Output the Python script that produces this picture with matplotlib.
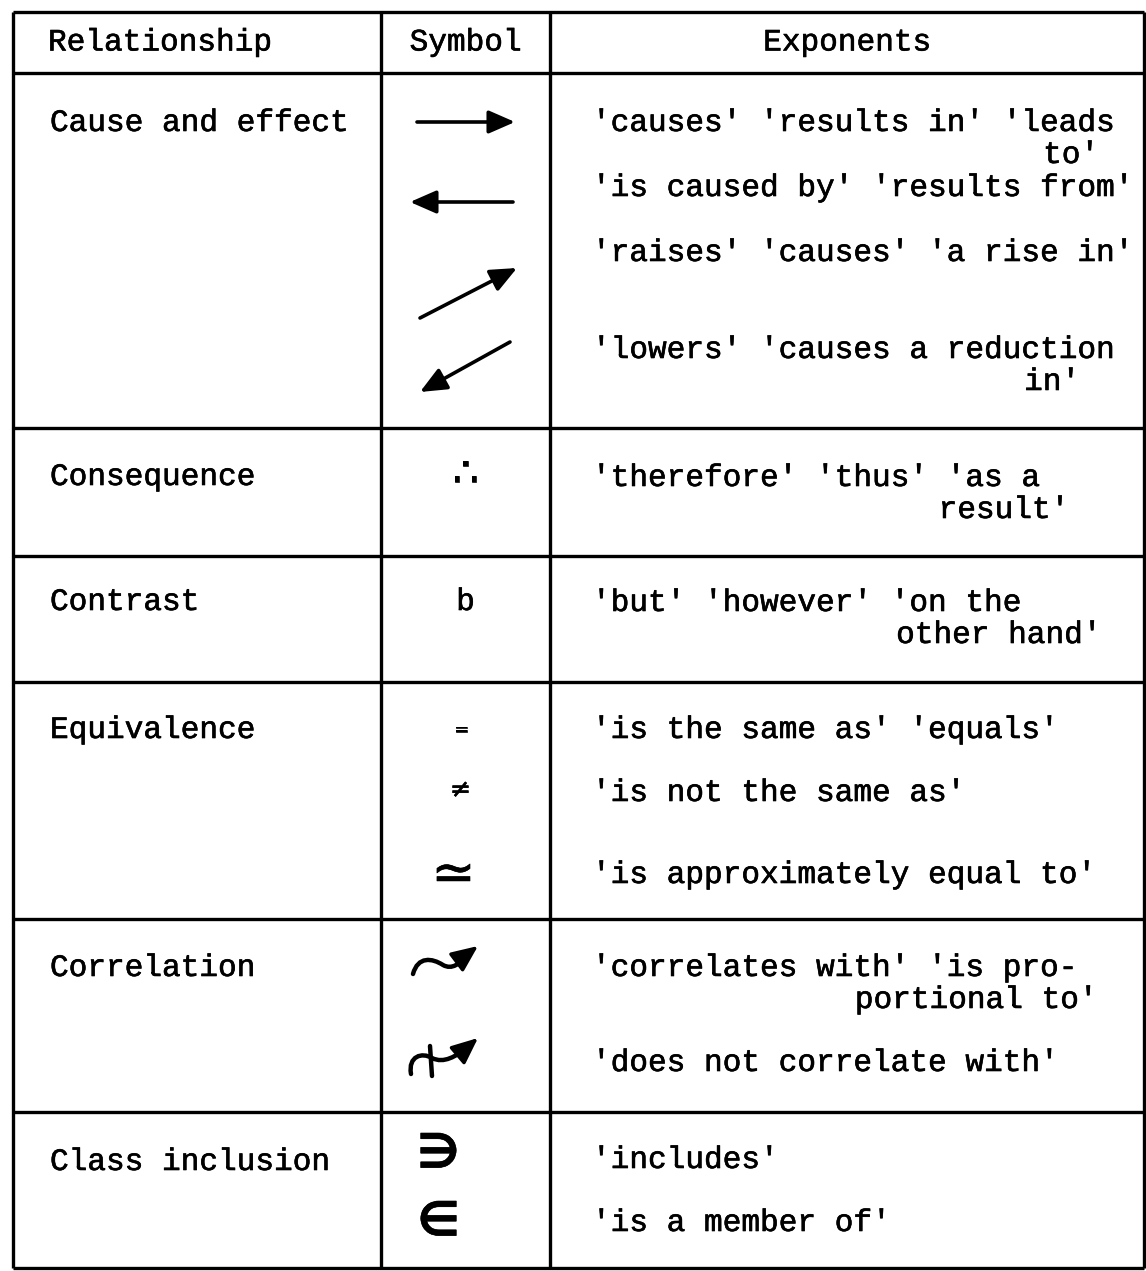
import matplotlib
matplotlib.use("Agg")
import matplotlib.pyplot as plt
import matplotlib.patheffects as pe
from matplotlib.path import Path
from matplotlib.patches import PathPatch

# table content
headers = ["Relationship", "Symbol", "Exponents"]
relationships = ["Cause and effect", "Consequence", "Contrast",
                 "Equivalence", "Correlation", "Class inclusion"]
symbols = [["arrow_right", "arrow_left", "arrow_up", "arrow_down"],
           ["\u2234"],
           ["b"],
           ["=", "\u2260", "\u2243"],
           ["corr", "no_corr"],
           ["\u220b", "\u2208"]]
exponents = [
    ["'causes' 'results in' 'leads", "'is caused by' 'results from'",
     "'raises' 'causes' 'a rise in'", "'lowers' 'causes a reduction"],
    ["'therefore' 'thus' 'as a"],
    ["'but' 'however' 'on the"],
    ["'is the same as' 'equals'", "'is not the same as'",
     "'is approximately equal to'"],
    ["'correlates with' 'is pro-", "'does not correlate with'"],
    ["'includes'", "'is a member of'"],
]
wraps = [["to'", "", "", "in'"], ["result'"], ["other hand'"],
         ["", "", ""], ["portional to'", ""], ["", ""]]

# layout (pixels, y downwards)
W, H = 1146, 1271
row_lines = [12, 73, 428, 556, 682, 919, 1112, 1268]
col_lines = [13, 381, 550, 1144]
rel_y = [123, 477, 602, 730, 968, 1162]
exp_y = [[123, 188, 253, 350], [478], [603], [730, 793, 875],
         [968, 1063], [1160, 1223]]
wrap_x = [[1099, 0, 0, 1080], [1069], [1101], [0, 0, 0], [1097, 0], [0, 0]]
wrap_dy = 32
sym_y = [[122, 202, 294, 366], [474], [602], [730, 790, 875],
         [960, 1058], [1155, 1223]]
arrow_ends = {"arrow_right": ((417, 122), (515, 122)),
              "arrow_left": ((513, 202), (410, 202)),
              "arrow_up": ((420, 318), (517, 268)),
              "arrow_down": ((510, 342), (420, 392))}

MONO = "Liberation Mono"
FS = 22.4
ink = [pe.withStroke(linewidth=0.45, foreground="black")]

fig = plt.figure(figsize=(W / 100, H / 100), dpi=100)
ax = fig.add_axes([0, 0, 1, 1])
ax.set_xlim(0, W)
ax.set_ylim(H, 0)
ax.axis("off")

# grid
for y in row_lines:
    ax.plot([col_lines[0], col_lines[-1]], [y, y], color="black", lw=2.4,
            solid_capstyle="butt")
for x in col_lines:
    ax.plot([x, x], [row_lines[0], row_lines[-1]], color="black", lw=2.4,
            solid_capstyle="butt")


def txt(x, y, s, **kw):
    kw.setdefault("family", MONO)
    kw.setdefault("fontsize", FS)
    kw.setdefault("va", "center")
    ax.text(x, y, s, color="black", path_effects=ink, **kw)


# header
hy = (row_lines[0] + row_lines[1]) / 2
txt(48, hy, headers[0])
txt((col_lines[1] + col_lines[2]) / 2, hy, headers[1], ha="center")
txt((col_lines[2] + col_lines[3]) / 2, hy, headers[2], ha="center")

exp_x = 592
sym_x = (col_lines[1] + col_lines[2]) / 2
head = "-|>,head_length=0.8,head_width=0.35"


def draw_curve(verts, codes):
    ax.add_patch(PathPatch(Path(verts, codes), fill=False, lw=3.2,
                           color="black", capstyle="round"))


for i, rel in enumerate(relationships):
    txt(50, rel_y[i], rel)
    for j, line in enumerate(exponents[i]):
        txt(exp_x, exp_y[i][j], line)
        if wraps[i][j]:
            txt(wrap_x[i][j], exp_y[i][j] + wrap_dy, wraps[i][j], ha="right")
    for j, sym in enumerate(symbols[i]):
        y = sym_y[i][j]
        if sym in arrow_ends:
            start, end = arrow_ends[sym]
            ax.annotate("", xy=end, xytext=start,
                        arrowprops=dict(arrowstyle=head, lw=2.6, color="black",
                                        mutation_scale=20, shrinkA=0, shrinkB=0))
        elif sym == "corr":
            C = Path.CURVE4
            draw_curve([(413, y + 14), (418, y - 4), (432, y - 2), (443, y + 5),
                        (452, y + 10), (460, y + 4), (468, y - 6)],
                       [Path.MOVETO, C, C, C, C, C, C])
            ax.annotate("", xy=(478, y - 14), xytext=(466, y - 5),
                        arrowprops=dict(arrowstyle=head, lw=2.5, color="black",
                                        mutation_scale=20, shrinkA=0, shrinkB=0))
        elif sym == "no_corr":
            C = Path.CURVE4
            draw_curve([(411, y + 16), (408, y - 2), (422, y - 6), (432, y),
                        (444, y + 6), (456, y - 2), (467, y - 10)],
                       [Path.MOVETO, C, C, C, C, C, C])
            ax.plot([430, 432], [y - 12, y + 18], color="black", lw=3.2,
                    solid_capstyle="round")
            ax.annotate("", xy=(478, y - 20), xytext=(465, y - 9),
                        arrowprops=dict(arrowstyle=head, lw=2.5, color="black",
                                        mutation_scale=20, shrinkA=0, shrinkB=0))
        elif sym == "\u2234":
            txt(sym_x, y, sym, family="DejaVu Sans", fontsize=30, ha="center")
        elif sym == "b":
            txt(sym_x, y, sym, ha="center")
        elif sym == "=":
            txt(sym_x - 4, y, sym, family="DejaVu Sans", fontsize=13, ha="center")
        elif sym == "\u2260":
            txt(sym_x - 5, y, sym, family="DejaVu Sans", fontsize=18, ha="center")
        elif sym == "\u2243":
            txt(sym_x - 12, y, sym, family="DejaVu Sans", fontsize=38, ha="center")
        else:
            txt(sym_x - 27, y, sym, family="DejaVu Sans", fontsize=34,
                fontweight="bold", ha="center")

fig.savefig("out.png", dpi=100, facecolor="white")
